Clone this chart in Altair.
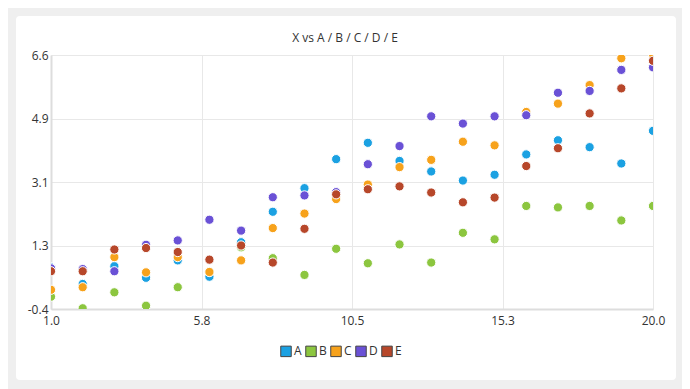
import altair as alt
import pandas as pd

x_vals = list(range(1, 21))
A = [0.75, 0.29, 0.78, 0.46, 0.94, 0.49, 1.44, 2.28, 2.93, 3.73, 4.18, 3.68, 3.39, 3.14, 3.30, 3.86, 4.25, 4.06, 3.61, 4.51]
B = [-0.06, -0.38, 0.06, -0.31, 0.20, 0.62, 1.30, 1.00, 0.54, 1.26, 0.86, 1.38, 0.88, 1.70, 1.52, 2.44, 2.40, 2.44, 2.04, 2.44]
C = [0.13, 0.20, 1.03, 0.61, 1.03, 0.62, 0.94, 1.83, 2.23, 2.63, 3.03, 3.51, 3.71, 4.21, 4.11, 5.03, 5.26, 5.77, 6.51, 6.62]
D = [0.72, 0.70, 0.64, 1.37, 1.49, 2.06, 1.76, 2.68, 2.73, 2.82, 3.59, 4.09, 4.91, 4.71, 4.91, 4.94, 5.56, 5.61, 6.19, 6.26]
E = [0.64, 0.64, 1.24, 1.28, 1.17, 0.96, 1.35, 0.88, 1.81, 2.76, 2.90, 2.98, 2.81, 2.54, 2.67, 3.54, 4.03, 4.99, 5.68, 6.44]

series_names = ["A", "B", "C", "D", "E"]
series_colors = ["#1ba1e2", "#8cc63f", "#f7a21b", "#6a51d6", "#b7472a"]
x_ticks = [1.0, 5.75, 10.5, 15.25, 20.0]
y_ticks = [-0.4, 1.35, 3.1, 4.85, 6.6]
y_tick_labels = ["-0.4", "1.3", "3.1", "4.9", "6.6"]
x_tick_labels = ["1.0", "5.8", "10.5", "15.3", "20.0"]
title_text = "X vs A / B / C / D / E"

rows = []
for name, vals in zip(series_names, [A, B, C, D, E]):
    for xv, yv in zip(x_vals, vals):
        rows.append({"X": xv, "value": yv, "series": name, "order": series_names.index(name)})
df = pd.DataFrame(rows)

W, H = 602, 254

ylab = "[" + ",".join("'%s'" % s for s in y_tick_labels) + "][round(datum.index*4)]"
xlab = "[" + ",".join("'%s'" % s for s in x_tick_labels) + "][round(datum.index*4)]"

points = alt.Chart(df).mark_circle(
    size=85, opacity=1, stroke="white", strokeWidth=1, clip=True
).encode(
    x=alt.X("X:Q", scale=alt.Scale(domain=[1, 20], nice=False, zero=False),
            axis=alt.Axis(values=x_ticks, labelExpr=xlab, title=None, grid=True,
                          ticks=False, labelPadding=6, domainColor="#dddddd",
                          domainWidth=2, gridColor="#e8e8e8", labelFontSize=12,
                          labelColor="#333333", labelFont="Open Sans",
                          labelFlush=False, labelOverlap=False)),
    y=alt.Y("value:Q", scale=alt.Scale(domain=[-0.4, 6.6], nice=False, zero=False),
            axis=alt.Axis(values=y_ticks, labelExpr=ylab, title=None, grid=True,
                          ticks=False, labelPadding=3, domainColor="#dddddd",
                          domainWidth=2, gridColor="#e8e8e8", labelFontSize=12,
                          labelColor="#333333", labelFont="Open Sans",
                          labelFlush=False, labelOverlap=False)),
    color=alt.Color("series:N", scale=alt.Scale(domain=series_names, range=series_colors),
                    legend=alt.Legend(title=None, orient="none", direction="horizontal",
                                      legendX=229, legendY=290, symbolType="square",
                                      symbolSize=110, symbolStrokeColor="#444444",
                                      symbolStrokeWidth=1, labelFontSize=12,
                                      labelColor="#333333", labelFont="Open Sans",
                                      columnPadding=1, labelOffset=2)),
    order=alt.Order("order:Q"),
)

one = pd.DataFrame({"a": [0]})

title = alt.Chart(one).mark_text(
    fontSize=12, font="Open Sans", color="#333333", align="center", baseline="middle"
).encode(x=alt.value(W / 2 - 7), y=alt.value(-17), text=alt.value(title_text))

# grey frame around the white card (decoration only)
frame = alt.Chart(one).mark_rect(
    fillOpacity=0, stroke="#efefef", strokeWidth=30, cornerRadius=19
).encode(
    x=alt.value(-50), x2=alt.value(640), y=alt.value(-54), y2=alt.value(340)
)

chart = alt.layer(points, title, frame).properties(
    width=W, height=H,
    background="white",
    padding={"left": 43, "top": 47, "right": 29, "bottom": 80},
    autosize=alt.AutoSizeParams(type="none"),
).configure_view(stroke=None)

chart.save("out.html", embed_options={"renderer": "svg", "actions": False})
